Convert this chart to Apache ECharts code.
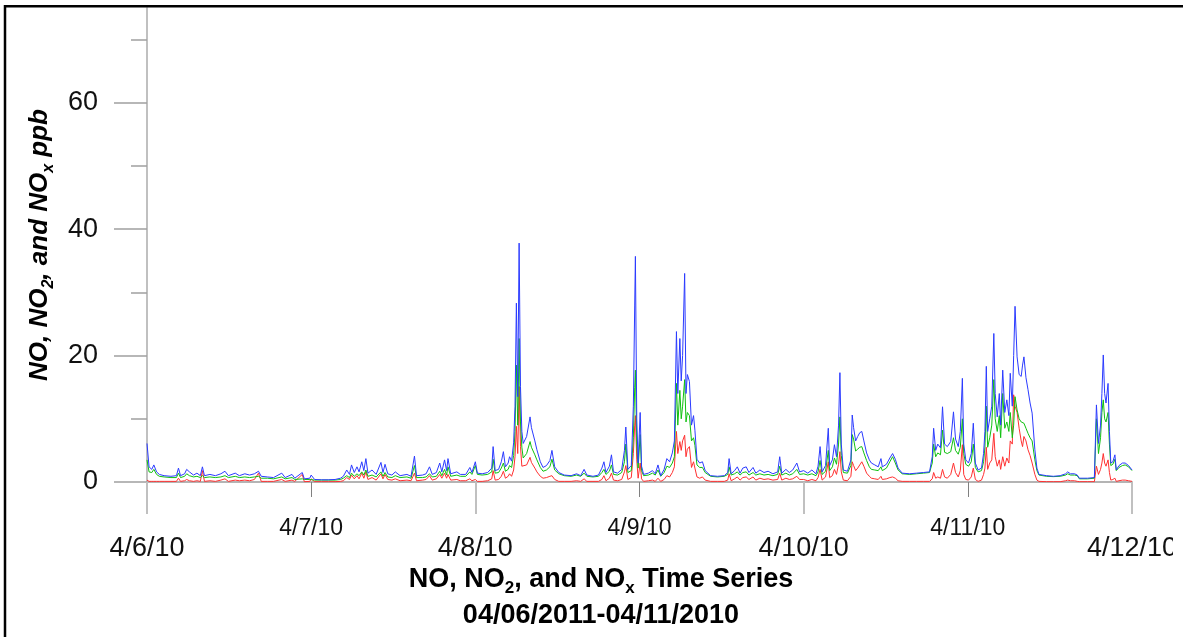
<!DOCTYPE html>
<html>
<head>
<meta charset="utf-8">
<script src="https://cdn.jsdelivr.net/npm/echarts@6/dist/echarts.min.js"></script>
<style>
  html, body { margin: 0; padding: 0; background: #fff; }
  #chart { width: 1183px; height: 637px; }
</style>
</head>
<body>
<div id="chart"></div>
<script>
// tick labels
const dayLabels = ['4/6/10', '4/7/10', '4/8/10', '4/9/10', '4/10/10', '4/11/10', '4/12/10'];
const evenDayTicks = [0, 48, 96, 144];
const oddDayTicks = [24, 72, 120];
const yMajorTicks = [0, 20, 40, 60];
const yMinorTicks = [10, 30, 50, 70];

// hours since 4/6/10 00:00
const hours = [
  0, 0.3, 0.7, 1.0, 1.4, 1.8, 2.5, 3.5, 4.3, 4.6, 4.9, 5.5, 5.8, 6.2, 6.8, 7.3, 7.8, 8.1, 8.4, 9.2, 10.0, 10.8, 11.4, 11.9, 12.9, 13.5, 14.3, 15.0, 15.7, 16.3, 16.7, 17.6, 18.5, 19.7, 20.2, 21.2, 21.6, 22.7, 23.0, 23.8,
  24.0, 24.5, 25.5, 26.5, 27.5, 28.3, 28.7, 29.2, 29.6, 29.9, 30.3, 30.7, 31.0, 31.4, 31.7, 32.0, 32.3, 32.9, 33.5, 34.2, 34.5, 34.8, 35.2, 35.8, 36.3, 37.0, 38.0, 38.6, 39.1, 39.4, 40.3, 40.8, 41.3, 41.7, 42.3, 42.8, 43.1, 43.5, 43.8, 44.0, 44.4, 45.3, 45.8, 46.6, 47.2, 47.5,
  48.0, 48.3, 49.0, 49.8, 50.4, 50.6, 50.9, 51.4, 51.8, 52.1, 52.4, 52.8, 53.0, 53.3, 53.6, 53.8, 54.0, 54.2, 54.4, 54.6, 54.8, 55.0, 55.5, 56.0, 56.2, 56.4, 56.7, 57.0, 57.5, 57.9, 58.4, 58.9, 59.2, 59.6, 60.2, 61.0, 62.0, 62.8, 63.4, 63.9, 64.3, 65.2, 66.0, 66.5, 66.8, 67.1, 67.6, 67.9, 68.2, 68.8, 69.4, 69.8, 70.0, 70.3, 70.8, 71.1, 71.3, 71.4, 71.6, 71.8, 72.1, 72.3,
  72.6, 73.3, 73.9, 74.3, 74.7, 75.1, 75.6, 76.0, 76.4, 76.8, 77.1, 77.4, 77.6, 77.9, 78.1, 78.3, 78.6, 78.8, 79.0, 79.3, 79.6, 79.9, 80.1, 80.4, 80.8, 81.2, 81.6, 82.4, 83.4, 84.4, 84.9, 85.1, 85.4, 85.9, 86.3, 86.7, 87.1, 87.6, 88.0, 88.6, 89.0, 89.6, 90.2, 90.8, 91.5, 92.2, 92.5, 92.8, 93.4, 93.9, 94.4, 95.0, 95.4,
  96.0, 96.6, 97.2, 97.8, 98.1, 98.4, 98.7, 99.2, 99.6, 99.8, 100.2, 100.5, 100.8, 101.1, 101.3, 101.5, 101.8, 102.4, 102.9, 103.1, 103.3, 103.6, 103.9, 104.2, 104.5, 104.8, 105.2, 105.6, 105.9, 106.4, 106.9, 107.3, 107.5, 108.1, 108.6, 109.0, 109.4, 109.8, 110.4, 111.5, 112.5, 113.5, 114.4, 114.8, 115.0, 115.3, 115.6, 116.0, 116.3, 116.6, 117.0, 117.5, 117.9, 118.2, 118.6, 118.9, 119.2, 119.4, 119.7,
  120.1, 120.5, 120.8, 121.1, 121.5, 122.0, 122.3, 122.5, 122.7, 122.9, 123.2, 123.5, 123.8, 124.0, 124.3, 124.6, 124.8, 125.1, 125.4, 125.7, 126.0, 126.2, 126.5, 126.7, 126.9, 127.2, 127.5, 127.8, 128.0, 128.2, 128.5, 128.8, 129.1, 129.4, 129.8, 130.1, 130.4, 131.5, 132.5, 133.5, 134.3, 134.6, 135.0, 135.6, 136.0, 136.3, 137.5, 138.5, 138.8, 139.1, 139.4, 139.6, 139.8, 140.0, 140.2, 140.5, 140.7, 140.9, 141.2, 141.5, 141.7, 142.1, 142.6, 143.0, 143.5, 144.0
];

// NOx (blue)
const noxValues = [
  6.1, 2.4, 2.0, 2.7, 1.6, 1.2, 1.0, 0.9, 1.0, 2.2, 1.0, 1.3, 2.0, 1.6, 1.1, 1.4, 1.0, 2.4, 1.0, 1.2, 1.0, 1.3, 1.7, 1.0, 1.4, 1.0, 1.3, 1.1, 1.3, 1.7, 0.9, 0.8, 0.7, 1.4, 0.7, 1.2, 0.6, 1.5, 0.5, 0.6,
  1.1, 0.4, 0.35, 0.35, 0.4, 0.6, 0.9, 1.9, 1.2, 2.7, 1.5, 2.4, 1.6, 3.2, 1.8, 3.7, 1.4, 1.9, 1.2, 3.1, 1.5, 2.8, 1.3, 1.1, 1.6, 1.0, 1.2, 0.9, 4.1, 1.0, 1.1, 1.3, 2.4, 1.2, 1.5, 3.0, 1.6, 3.5, 1.8, 3.7, 1.3, 1.6, 1.2, 1.2, 2.3, 1.5,
  3.2, 1.4, 1.3, 1.5, 2.2, 5.6, 1.8, 2.0, 3.2, 4.8, 2.4, 3.0, 4.0, 3.3, 6.2, 12.0, 28.3, 13.5, 37.8, 15.1, 8.0, 6.1, 7.2, 10.3, 8.6, 8.8, 6.5, 5.1, 3.2, 2.3, 2.6, 3.4, 5.0, 2.4, 1.5, 1.1, 1.0, 1.3, 1.0, 2.0, 1.1, 0.9, 1.1, 2.2, 3.2, 1.5, 2.5, 4.3, 1.6, 1.4, 2.0, 5.0, 8.7, 2.0, 2.6, 12.0, 28.0, 35.7, 10.0, 3.0, 11.0, 2.5,
  1.2, 1.4, 1.8, 1.3, 2.7, 1.0, 2.0, 3.7, 3.2, 4.6, 6.5, 23.8, 14.0, 22.7, 16.0, 20.0, 33.0, 14.0, 17.0, 15.9, 9.0, 10.5, 8.2, 3.6, 3.0, 3.2, 1.8, 1.0, 0.9, 1.0, 1.5, 3.7, 1.3, 1.8, 2.4, 1.4, 2.2, 2.4, 1.5, 2.3, 1.4, 1.9, 1.5, 1.7, 1.3, 1.6, 4.0, 1.4, 2.0, 1.5, 1.9, 3.0, 1.6,
  1.8, 1.4, 1.9, 1.3, 2.5, 5.6, 1.6, 2.6, 8.5, 2.6, 3.5, 5.9, 4.0, 9.0, 17.3, 6.0, 1.9, 1.7, 3.5, 10.6, 8.6, 6.5, 7.2, 7.8, 8.0, 6.5, 4.6, 3.5, 3.0, 2.7, 2.4, 3.7, 2.4, 2.8, 3.8, 4.5, 3.6, 2.2, 1.4, 1.3, 1.4, 1.5, 1.6, 4.0, 8.5, 5.0, 6.0, 5.4, 11.9, 6.0, 5.6, 6.4, 11.1, 6.8, 5.6, 8.0, 16.4, 6.0, 3.5,
  3.0, 4.5, 9.3, 3.0, 1.9, 2.2, 4.5, 8.0, 18.3, 8.0, 10.0, 12.0, 23.5, 14.0, 10.3, 14.0, 9.0, 17.7, 11.0, 13.0, 10.5, 17.2, 12.0, 20.0, 27.8, 19.8, 17.0, 16.7, 18.5, 19.8, 16.5, 14.6, 12.5, 10.9, 5.1, 2.2, 1.2, 1.0, 0.9, 1.0, 1.3, 1.6, 1.3, 1.3, 1.1, 0.6, 0.6, 0.7, 12.2, 6.1, 9.0, 14.0, 20.1, 14.0, 12.5, 15.6, 8.0, 3.0, 3.2, 4.3, 1.9, 2.6, 3.0, 3.0, 2.6, 1.9
];

// NO2 (green)
const no2Values = [
  3.5, 1.6, 1.5, 2.0, 1.2, 0.9, 0.8, 0.7, 0.7, 1.4, 0.7, 0.9, 1.3, 1.0, 0.8, 0.9, 0.7, 1.0, 0.7, 0.8, 0.7, 0.8, 1.0, 0.7, 0.9, 0.7, 0.8, 0.7, 0.8, 0.9, 0.6, 0.6, 0.5, 0.8, 0.5, 0.7, 0.4, 0.5, 0.4, 0.4,
  0.6, 0.3, 0.3, 0.3, 0.3, 0.4, 0.6, 1.0, 0.7, 1.4, 0.9, 1.3, 1.0, 1.6, 1.1, 1.9, 0.9, 1.1, 0.8, 1.6, 0.9, 1.5, 0.8, 0.7, 1.0, 0.7, 0.8, 0.6, 2.6, 0.7, 0.7, 0.8, 1.3, 0.8, 0.9, 1.7, 1.0, 2.0, 1.1, 2.4, 0.9, 1.1, 0.9, 0.9, 1.6, 1.2,
  2.6, 1.2, 1.1, 1.2, 1.6, 3.6, 1.4, 1.5, 2.2, 3.0, 1.7, 2.0, 2.6, 2.3, 4.2, 8.0, 18.5, 9.0, 22.7, 9.5, 5.5, 3.8, 4.5, 6.4, 5.5, 5.6, 4.3, 3.5, 2.3, 1.7, 1.9, 2.4, 3.6, 1.9, 1.3, 1.0, 0.9, 1.1, 0.9, 1.4, 0.9, 0.8, 0.9, 1.5, 2.0, 1.2, 1.7, 2.7, 1.2, 1.1, 1.5, 3.2, 6.0, 1.5, 1.8, 7.0, 15.0, 17.7, 6.0, 2.2, 7.5, 1.8,
  1.0, 1.1, 1.4, 1.1, 1.9, 0.9, 1.5, 2.5, 2.3, 3.0, 4.0, 15.6, 9.0, 14.5, 10.0, 12.0, 16.2, 9.5, 11.0, 10.5, 6.5, 7.0, 5.8, 2.7, 2.3, 2.3, 1.5, 0.9, 0.8, 0.9, 1.2, 2.4, 1.1, 1.3, 1.6, 1.1, 1.5, 1.6, 1.1, 1.5, 1.1, 1.3, 1.1, 1.2, 1.0, 1.2, 2.5, 1.1, 1.4, 1.1, 1.3, 2.0, 1.2,
  1.3, 1.1, 1.3, 1.0, 1.6, 3.4, 1.2, 1.7, 5.0, 1.8, 2.4, 3.8, 2.8, 6.0, 10.3, 4.2, 1.5, 1.4, 2.6, 7.5, 6.8, 4.9, 5.2, 5.5, 5.6, 4.6, 3.4, 2.4, 2.0, 1.9, 1.8, 2.4, 1.8, 2.2, 3.2, 4.0, 3.0, 1.9, 1.3, 1.2, 1.3, 1.4, 1.5, 3.0, 6.0, 4.0, 4.6, 4.3, 8.2, 4.7, 4.5, 4.8, 7.0, 5.0, 4.4, 5.5, 10.0, 4.5, 2.8,
  2.5, 3.2, 6.0, 2.3, 1.6, 1.8, 3.2, 5.5, 12.0, 5.5, 7.0, 9.0, 16.2, 10.0, 8.0, 10.5, 7.0, 14.0, 8.5, 9.5, 8.0, 11.0, 7.0, 9.0, 13.5, 11.4, 10.0, 9.5, 9.3, 9.3, 8.5, 7.7, 7.0, 6.5, 3.5, 1.8, 1.1, 0.9, 0.85, 0.9, 1.1, 1.3, 1.1, 1.1, 1.0, 0.5, 0.5, 0.6, 10.0, 4.5, 7.0, 11.0, 13.0, 10.0, 9.5, 11.0, 6.0, 2.6, 2.8, 3.6, 1.8, 2.3, 2.6, 2.7, 2.4, 1.8
];

// NO (red)
const noValues = [
  0.3, 0.1, 0.1, 0.1, 0.1, 0.1, 0.1, 0.1, 0.1, 0.6, 0.1, 0.2, 0.4, 0.2, 0.1, 0.2, 0.1, 1.8, 0.1, 0.2, 0.1, 0.3, 0.5, 0.1, 0.3, 0.2, 0.3, 0.2, 0.4, 1.4, 0.1, 0.1, 0.1, 0.4, 0.1, 0.3, 0.1, 1.2, 0.05, 0.1,
  0.5, 0.05, 0.05, 0.05, 0.05, 0.1, 0.2, 0.7, 0.4, 1.1, 0.5, 1.0, 0.5, 1.4, 0.6, 1.6, 0.4, 0.7, 0.3, 1.3, 0.5, 1.2, 0.4, 0.3, 0.5, 0.2, 0.3, 0.2, 1.4, 0.2, 0.3, 0.4, 1.0, 0.3, 0.5, 1.2, 0.6, 1.4, 0.6, 1.2, 0.3, 0.4, 0.2, 0.2, 0.5, 0.2,
  0.4, 0.1, 0.1, 0.2, 0.5, 1.8, 0.3, 0.4, 0.9, 1.7, 0.6, 0.9, 1.3, 0.9, 1.9, 4.0, 8.8, 4.5, 15.1, 5.6, 2.5, 2.3, 2.7, 3.9, 3.1, 3.2, 2.2, 1.6, 0.9, 0.6, 0.7, 0.9, 1.0, 0.4, 0.1, 0.1, 0.1, 0.2, 0.1, 0.5, 0.1, 0.1, 0.1, 0.4, 1.0, 0.2, 0.6, 1.4, 0.3, 0.2, 0.4, 1.6, 2.6, 0.4, 0.7, 4.5, 9.0, 10.5, 3.5, 0.6, 3.0, 0.5,
  0.1, 0.2, 0.3, 0.1, 0.6, 0.1, 0.4, 1.0, 0.8, 1.5, 2.4, 8.0, 4.5, 6.4, 5.0, 6.5, 7.4, 4.0, 5.2, 5.6, 2.3, 3.2, 2.2, 0.8, 0.6, 0.8, 0.3, 0.1, 0.1, 0.1, 0.3, 1.3, 0.2, 0.5, 0.8, 0.3, 0.7, 0.8, 0.4, 0.8, 0.3, 0.6, 0.4, 0.5, 0.3, 0.4, 1.4, 0.3, 0.6, 0.4, 0.5, 0.9, 0.4,
  0.4, 0.2, 0.4, 0.2, 0.7, 2.0, 0.3, 0.8, 3.2, 0.7, 1.0, 2.0, 1.2, 2.8, 4.8, 1.6, 0.3, 0.2, 0.9, 3.2, 2.6, 1.8, 2.2, 2.7, 3.2, 2.5, 1.4, 0.9, 0.6, 0.5, 0.4, 0.9, 0.4, 0.5, 0.7, 0.8, 0.6, 0.2, 0.1, 0.1, 0.1, 0.1, 0.1, 0.5, 1.5, 0.6, 0.8, 0.6, 2.0, 0.8, 0.6, 1.2, 3.0, 1.5, 0.8, 1.8, 5.9, 1.2, 0.4,
  0.3, 0.8, 2.2, 0.4, 0.1, 0.3, 1.2, 2.2, 5.5, 2.0, 3.0, 3.5, 7.7, 4.0, 2.5, 3.5, 2.0, 4.0, 2.5, 3.8, 3.0, 6.5, 6.0, 13.8, 12.0, 11.0, 8.5, 6.5, 5.6, 7.2, 6.5, 5.1, 4.2, 3.0, 1.2, 0.3, 0.1, 0.05, 0.05, 0.05, 0.2, 0.3, 0.2, 0.2, 0.1, 0.05, 0.05, 0.05, 2.5, 1.2, 2.0, 3.0, 4.5, 3.0, 2.5, 3.5, 1.5, 0.3, 0.4, 0.6, 0.1, 0.2, 0.3, 0.3, 0.2, 0.1
];

const font = "'Liberation Sans', Arial, sans-serif";
const pair = vals => hours.map((h, i) => [h, vals[i]]);
const dayName = v => dayLabels[Math.round(v / 24)];

var myChart = echarts.init(document.getElementById('chart'));
myChart.setOption({
    animation: false,
    backgroundColor: '#fff',
    title: [{
        text: '{a|NO, NO}{s|2}{a|, and NO}{s|x}{a| Time Series}',
        left: 601, top: 563, padding: 0, textAlign: 'center',
        textStyle: {
            rich: {
                a: { fontFamily: font, fontSize: 27, fontWeight: 'bold', color: '#000', lineHeight: 34 },
                s: { fontFamily: font, fontSize: 17, fontWeight: 'bold', color: '#000', lineHeight: 17, verticalAlign: 'bottom' }
            }
        }
    }, {
        text: '04/06/2011-04/11/2010',
        left: 601, top: 601, padding: 0, textAlign: 'center',
        textStyle: { fontFamily: font, fontSize: 27, fontWeight: 'bold', color: '#000', lineHeight: 30 }
    }],
    grid: { left: 147, right: 51, top: 8, bottom: 155 },
    xAxis: [{
        type: 'value', min: 0, max: 144, position: 'bottom',
        axisLine: { lineStyle: { color: '#b4b4b4', width: 2 } },
        axisTick: { customValues: evenDayTicks, length: 32, lineStyle: { color: '#c0c0c0', width: 2 } },
        axisLabel: { customValues: evenDayTicks, formatter: dayName, fontFamily: font, fontSize: 27, color: '#111', margin: 53 },
        splitLine: { show: false }
    }, {
        type: 'value', min: 0, max: 144, position: 'bottom',
        axisLine: { show: false },
        axisTick: { customValues: oddDayTicks, length: 15, lineStyle: { color: '#808080', width: 1 } },
        axisLabel: { customValues: oddDayTicks, formatter: dayName, fontFamily: font, fontSize: 23, color: '#111', margin: 35 },
        splitLine: { show: false }
    }],
    yAxis: [{
        type: 'value', min: 0, max: 75, position: 'left',
        name: '{a|NO, NO}{s|2}{a|, and NO}{s|x}{a| ppb}',
        nameLocation: 'middle', nameGap: 88,
        nameTextStyle: {
            rich: {
                a: { fontFamily: font, fontSize: 26, fontWeight: 'bold', fontStyle: 'italic', color: '#000', lineHeight: 34 },
                s: { fontFamily: font, fontSize: 16, fontWeight: 'bold', fontStyle: 'italic', color: '#000', lineHeight: 16, verticalAlign: 'bottom' }
            }
        },
        axisLine: { show: true, lineStyle: { color: '#c0c0c0', width: 2 } },
        axisTick: { customValues: yMajorTicks, length: 33, lineStyle: { color: '#a0a0a0', width: 1.5 } },
        axisLabel: { customValues: yMajorTicks, fontFamily: font, fontSize: 27, color: '#111', margin: 49 },
        splitLine: { show: false }
    }, {
        type: 'value', min: 0, max: 75, position: 'left',
        axisLine: { show: false },
        axisTick: { customValues: yMinorTicks, length: 16, lineStyle: { color: '#a0a0a0', width: 1.5 } },
        axisLabel: { show: false },
        splitLine: { show: false }
    }],
    series: [
        { name: 'NO', type: 'line', data: pair(noValues), showSymbol: false, lineStyle: { color: '#ff3030', width: 1 }, itemStyle: { color: '#ff3030' } },
        { name: 'NO2', type: 'line', data: pair(no2Values), showSymbol: false, lineStyle: { color: '#10c010', width: 1 }, itemStyle: { color: '#10c010' } },
        { name: 'NOx', type: 'line', data: pair(noxValues), showSymbol: false, lineStyle: { color: '#2b3bff', width: 1 }, itemStyle: { color: '#2b3bff' } }
    ],
    graphic: [
        { type: 'rect', z: 100, shape: { x: 1173, y: 0, width: 10, height: 637 }, style: { fill: '#fff' } },
        { type: 'line', z: 101, shape: { x1: 4, y1: 6.3, x2: 1183, y2: 6.3 }, style: { stroke: '#000', lineWidth: 2.5 } },
        { type: 'line', z: 101, shape: { x1: 5, y1: 5, x2: 5, y2: 637 }, style: { stroke: '#000', lineWidth: 2.5 } }
    ]
});
</script>
</body>
</html>
